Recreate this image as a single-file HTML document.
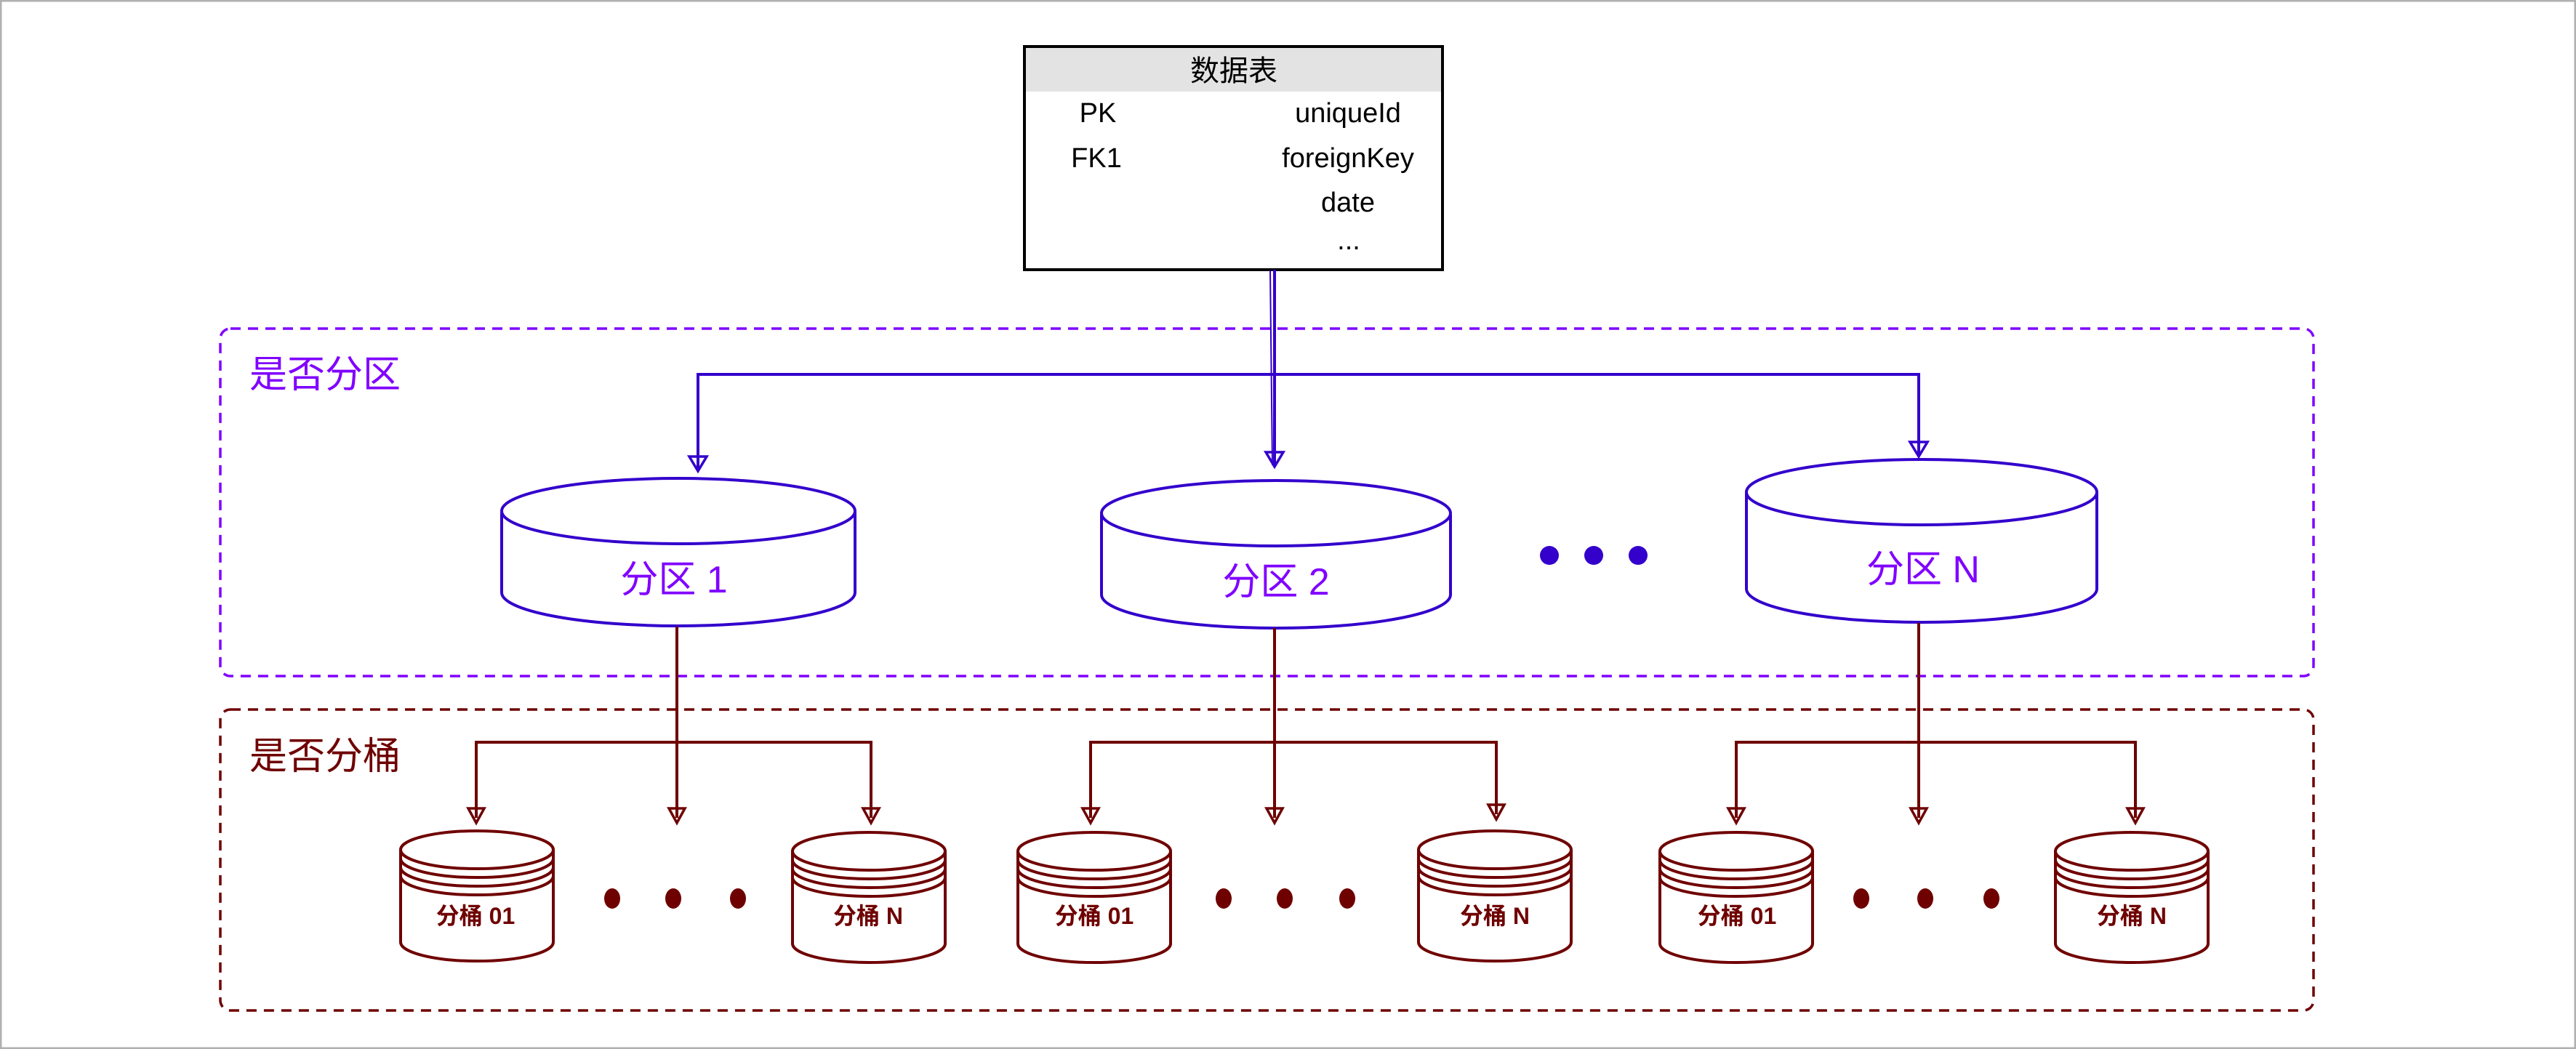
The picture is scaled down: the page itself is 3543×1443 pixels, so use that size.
<!DOCTYPE html>
<html><head><meta charset="utf-8"><style>
html,body{margin:0;padding:0;background:#fff}
svg{display:block}
text{font-family:"Liberation Sans","Noto Sans CJK SC",sans-serif}
</style></head><body>
<svg width="3543" height="1443" viewBox="0 0 3543 1443" xmlns="http://www.w3.org/2000/svg">
<defs>
<marker id="ab" markerWidth="14" markerHeight="20" refX="7" refY="18" orient="auto-start-reverse" markerUnits="userSpaceOnUse" viewBox="0 0 14 20">
</marker>
</defs>
<rect x="1" y="1" width="3541" height="1441" fill="#fff" stroke="#b0b0b0" stroke-width="3"/>

<!-- Table -->
<rect x="1409" y="64" width="575" height="307" fill="#fff" stroke="#000" stroke-width="4"/>
<rect x="1411" y="66" width="571" height="60" fill="#e3e3e3"/>
<text x="1697" y="111" font-size="40" text-anchor="middle" fill="#000">数据表</text>
<g font-size="38" fill="#000" text-anchor="middle">
<text x="1510" y="168">PK</text><text x="1854" y="168">uniqueId</text>
<text x="1508" y="230">FK1</text><text x="1854" y="230">foreignKey</text>
<text x="1854" y="291">date</text><text x="1855" y="343">...</text>
</g>

<!-- Purple dashed box -->
<rect x="303" y="452" width="2879" height="478" rx="14" fill="none" stroke="#8000ff" stroke-width="3.5" stroke-dasharray="14 10"/>
<text x="343" y="533" font-size="52" fill="#8000ff">是否分区</text>

<!-- Brown dashed box -->
<rect x="303" y="976" width="2879" height="414" rx="14" fill="none" stroke="#6f0000" stroke-width="3.5" stroke-dasharray="14 10"/>
<text x="343" y="1058" font-size="52" fill="#6f0000">是否分桶</text>

<!-- purple connectors -->
<g stroke="#3300cc" stroke-width="4" fill="none">
<path d="M1753 371 L1753 640"/>
<path d="M960 646 L960 515 L2639 515 L2639 626"/>
<path d="M1747 372 L1750 640" stroke-width="2"/>
<path d="M948 628 L960 648 L972 628 Z" stroke-width="3.5"/>
<path d="M1741 622 L1753 642 L1765 622 Z" stroke-width="3.5"/>
<path d="M2627 608 L2639 628 L2651 608 Z" stroke-width="3.5"/>
</g>

<!-- partitions -->
<g stroke="#3300cc" stroke-width="4" fill="#fff">
<g>
<path d="M690 705 L690 815 A243 46 0 0 0 1176 815 L1176 705"/>
<ellipse cx="933" cy="703" rx="243" ry="45"/>
</g>
<g>
<path d="M1515 708 L1515 818 A240 46 0 0 0 1995 818 L1995 708"/>
<ellipse cx="1755" cy="706" rx="240" ry="45"/>
</g>
<g>
<path d="M2402 677 L2402 810 A241 46 0 0 0 2884 810 L2884 677"/>
<ellipse cx="2643" cy="677" rx="241" ry="45"/>
</g>
</g>
<g font-size="52" fill="#8000ff" text-anchor="middle">
<text x="927" y="815">分区 1</text>
<text x="1755" y="818">分区 2</text>
<text x="2645" y="801">分区 N</text>
</g>
<g fill="#3300cc">
<circle cx="2131" cy="764" r="13"/><circle cx="2192" cy="764" r="13"/><circle cx="2253" cy="764" r="13"/>
</g>

<!-- brown connectors -->
<g stroke="#6f0000" stroke-width="4" fill="none">
<path d="M931 862 L931 1125"/>
<path d="M655 1125 L655 1021 L1198 1021 L1198 1125"/>
<path d="M1753 864 L1753 1125"/>
<path d="M1500 1125 L1500 1021 L2058 1021 L2058 1120"/>
<path d="M2639 857 L2639 1125"/>
<path d="M2388 1125 L2388 1021 L2937 1021 L2937 1125"/>
<g stroke-width="3.5">
<path d="M644 1112 L655 1132 L666 1112 Z"/>
<path d="M920 1112 L931 1132 L942 1112 Z"/>
<path d="M1187 1112 L1198 1132 L1209 1112 Z"/>
<path d="M1489 1112 L1500 1132 L1511 1112 Z"/>
<path d="M1742 1112 L1753 1132 L1764 1112 Z"/>
<path d="M2047 1107 L2058 1127 L2069 1107 Z"/>
<path d="M2377 1112 L2388 1132 L2399 1112 Z"/>
<path d="M2628 1112 L2639 1132 L2650 1112 Z"/>
<path d="M2926 1112 L2937 1132 L2948 1112 Z"/>
</g>
</g>

<!-- buckets -->
<g stroke="#6f0000" stroke-width="4" fill="#fff">
<g transform="translate(551,1141)">
<path d="M0 28 L0 155 A105 26 0 0 0 210 155 L210 28"/>
<ellipse cx="105" cy="28" rx="105" ry="26"/>
<path d="M0 40 A105 26 0 0 0 210 40 M0 52 A105 26 0 0 0 210 52 M0 64 A105 26 0 0 0 210 64" fill="none"/>
</g>
<g transform="translate(1090,1143)">
<path d="M0 28 L0 155 A105 26 0 0 0 210 155 L210 28"/>
<ellipse cx="105" cy="28" rx="105" ry="26"/>
<path d="M0 40 A105 26 0 0 0 210 40 M0 52 A105 26 0 0 0 210 52 M0 64 A105 26 0 0 0 210 64" fill="none"/>
</g>
<g transform="translate(1400,1143)">
<path d="M0 28 L0 155 A105 26 0 0 0 210 155 L210 28"/>
<ellipse cx="105" cy="28" rx="105" ry="26"/>
<path d="M0 40 A105 26 0 0 0 210 40 M0 52 A105 26 0 0 0 210 52 M0 64 A105 26 0 0 0 210 64" fill="none"/>
</g>
<g transform="translate(1951,1141)">
<path d="M0 28 L0 155 A105 26 0 0 0 210 155 L210 28"/>
<ellipse cx="105" cy="28" rx="105" ry="26"/>
<path d="M0 40 A105 26 0 0 0 210 40 M0 52 A105 26 0 0 0 210 52 M0 64 A105 26 0 0 0 210 64" fill="none"/>
</g>
<g transform="translate(2283,1143)">
<path d="M0 28 L0 155 A105 26 0 0 0 210 155 L210 28"/>
<ellipse cx="105" cy="28" rx="105" ry="26"/>
<path d="M0 40 A105 26 0 0 0 210 40 M0 52 A105 26 0 0 0 210 52 M0 64 A105 26 0 0 0 210 64" fill="none"/>
</g>
<g transform="translate(2827,1143)">
<path d="M0 28 L0 155 A105 26 0 0 0 210 155 L210 28"/>
<ellipse cx="105" cy="28" rx="105" ry="26"/>
<path d="M0 40 A105 26 0 0 0 210 40 M0 52 A105 26 0 0 0 210 52 M0 64 A105 26 0 0 0 210 64" fill="none"/>
</g>
</g>
<g font-size="32" font-weight="bold" fill="#6f0000" text-anchor="middle">
<text x="654" y="1271">分桶 01</text>
<text x="1194" y="1271">分桶 N</text>
<text x="1505" y="1271">分桶 01</text>
<text x="2056" y="1271">分桶 N</text>
<text x="2389" y="1271">分桶 01</text>
<text x="2932" y="1271">分桶 N</text>
</g>
<g fill="#6f0000">
<ellipse cx="842" cy="1236" rx="11" ry="14"/><ellipse cx="926" cy="1236" rx="11" ry="14"/><ellipse cx="1015" cy="1236" rx="11" ry="14"/>
<ellipse cx="1683" cy="1236" rx="11" ry="14"/><ellipse cx="1767" cy="1236" rx="11" ry="14"/><ellipse cx="1853" cy="1236" rx="11" ry="14"/>
<ellipse cx="2560" cy="1236" rx="11" ry="14"/><ellipse cx="2648" cy="1236" rx="11" ry="14"/><ellipse cx="2739" cy="1236" rx="11" ry="14"/>
</g>
</svg>
</body></html>
